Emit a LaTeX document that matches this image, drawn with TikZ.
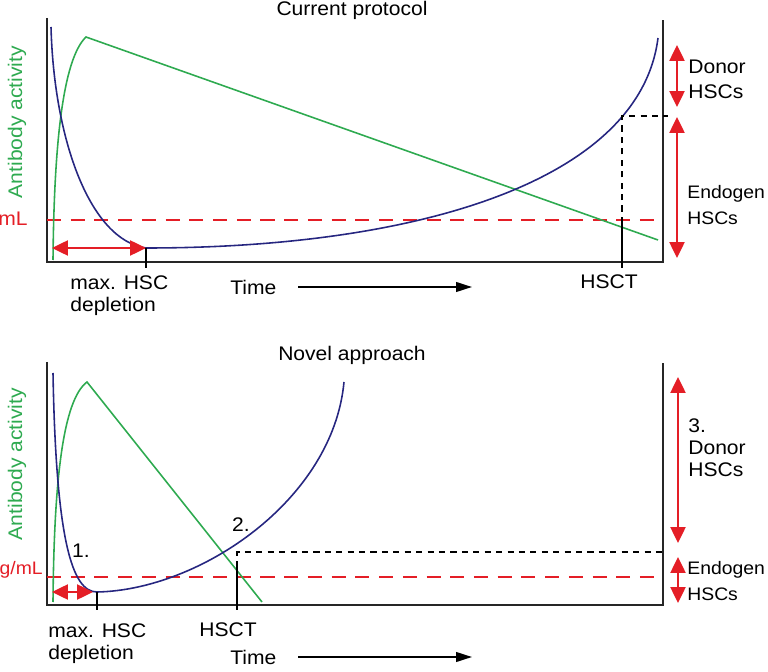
\documentclass[tikz,border=0pt]{standalone}
\usepackage{fontspec}
\setmainfont[FakeStretch=1.07]{Liberation Sans}
\usetikzlibrary{arrows.meta}

\definecolor{abgreen}{RGB}{46,170,80}
\definecolor{hscblue}{RGB}{38,38,128}
\definecolor{limred}{RGB}{228,30,38}

\tikzset{
	axis/.style={line width=1.2pt, draw=black!85},
	ab/.style={line width=0.9pt, draw=abgreen},
	hsc/.style={line width=0.9pt, draw=hscblue},
	limit/.style={line width=0.9pt, draw=limred, dash pattern=on 8pt off 5.5pt},
	guide/.style={line width=0.9pt, draw=black, dash pattern=on 3.5pt off 3pt},
	tick/.style={line width=1pt, draw=black},
	span/.style={line width=1.2pt, draw=limred, {Triangle[width=8.5pt,length=9pt]}-{Triangle[width=8.5pt,length=9pt]}},
	timearrow/.style={line width=1pt, -{Triangle[width=5.5pt,length=9pt]}},
	lbl/.style={font=\fontsize{11.2}{12.7}\selectfont, inner sep=0pt, align=left},
	edgelbl/.style={font=\fontsize{10.3}{12.7}\selectfont, inner sep=0pt, align=left},
}

\begin{document}
\begin{tikzpicture}[x=0.02cm,y=-0.02cm]

	\useasboundingbox (0,0) rectangle (768,672);

	%%%%% Current protocol %%%%%

	%Frame
	\draw[axis] (47,18) -- (47,262) -- (663,262) -- (663,20);
	\node[lbl] (title1) at (352,10) {Current protocol};
	\node[lbl, text=abgreen, rotate=90] (ylab1) at (17,122) {Antibody activity};
	\node[lbl, text=limred, anchor=base east] (lim1) at (28,226) {mL};

	%Threshold
	\draw[limit] (47,220) -- (663,220);

	%Antibody
	\draw[ab] (53,260) .. controls (54,150) and (62,60) .. (86,37) -- (658,240);

	%HSCs
	\draw[hsc] (51,27) .. controls (54,140) and (90,240) .. (146,248)
		.. controls (420,248) and (640,180) .. (658,38);

	%Depletion
	\coordinate (dep1a) at (52,248);
	\coordinate (dep1b) at (146,248);
	\draw[span] (dep1a) -- (dep1b);
	\draw[tick] (dep1b) -- ++(0,20);
	\node[lbl, anchor=north west] (deplbl1) at (70,275) {max. HSC\\depletion};

	%Transplant
	\coordinate (tx1) at (622,223);
	\coordinate (tx1top) at (622,116);
	\coordinate (tx1end) at (668,116);
	\draw[guide] (tx1) -- (tx1top) -- (tx1end);
	\draw[tick] (tx1) -- ++(0,45);
	\node[lbl] (hsct1) at (609,282) {HSCT};

	%Time
	\node[lbl, anchor=west] (time1) at (230,287) {Time};
	\coordinate (t1a) at (298,287);
	\coordinate (t1b) at (472,287);
	\draw[timearrow] (t1a) -- (t1b);

	%Compartments
	\coordinate (don1a) at (677,45);
	\coordinate (don1b) at (677,107);
	\coordinate (end1a) at (677,117);
	\coordinate (end1b) at (677,258);
	\draw[span] (don1a) -- (don1b);
	\draw[span] (end1a) -- (end1b);
	\node[lbl, anchor=north west] (donlbl1) at (688,60) {Donor\\[1.5pt]HSCs};
	\node[edgelbl, anchor=north west] (endlbl1) at (687,185) {Endogen\\[2pt]HSCs};

	%%%%% Novel approach %%%%%

	%Frame
	\draw[axis] (47,362) -- (47,605) -- (663,605) -- (663,363);
	\node[lbl] (title2) at (352,355) {Novel approach};
	\node[lbl, text=abgreen, rotate=90] (ylab2) at (17,464) {Antibody activity};
	\node[edgelbl, text=limred, anchor=base east] (lim2) at (43,574) {g/mL};

	%Threshold
	\draw[limit] (47,577) -- (663,577);

	%Antibody
	\draw[ab] (53,602) .. controls (54,480) and (63,400) .. (87,382) -- (262,602);

	%HSCs
	\draw[hsc] (53,373) .. controls (56,540) and (72,592) .. (97,592)
		.. controls (200,590) and (333,500) .. (344,382);

	%Depletion
	\coordinate (dep2a) at (52,592);
	\coordinate (dep2b) at (93,592);
	\coordinate (dep2t) at (97,592);
	\draw[span] (dep2a) -- (dep2b);
	\draw[tick] (dep2t) -- ++(0,18);
	\node[lbl, anchor=north west] (deplbl2) at (48,623) {max. HSC\\depletion};
	\node[lbl] (step1) at (81,551) {1.};

	%Transplant
	\coordinate (tx2) at (237,567);
	\coordinate (tx2top) at (237,552);
	\coordinate (tx2end) at (667,552);
	\draw[guide] (tx2) -- (tx2top) -- (tx2end);
	\draw[tick] (tx2) -- ++(0,43);
	\node[lbl] (hsct2) at (228,630) {HSCT};
	\node[lbl] (step2) at (241,525) {2.};

	%Time
	\node[lbl, anchor=west] (time2) at (230,657) {Time};
	\coordinate (t2a) at (298,657);
	\coordinate (t2b) at (472,657);
	\draw[timearrow] (t2a) -- (t2b);

	%Compartments
	\coordinate (don2a) at (678,377);
	\coordinate (don2b) at (678,543);
	\coordinate (end2a) at (678,557);
	\coordinate (end2b) at (678,603);
	\draw[span] (don2a) -- (don2b);
	\draw[span] (end2a) -- (end2b);
	\node[lbl, anchor=north west] (donlbl2) at (688,418) {3.\\Donor\\HSCs};
	\node[edgelbl, anchor=north west] (endlbl2) at (687,561) {Endogen\\[2pt]HSCs};

\end{tikzpicture}
\end{document}
